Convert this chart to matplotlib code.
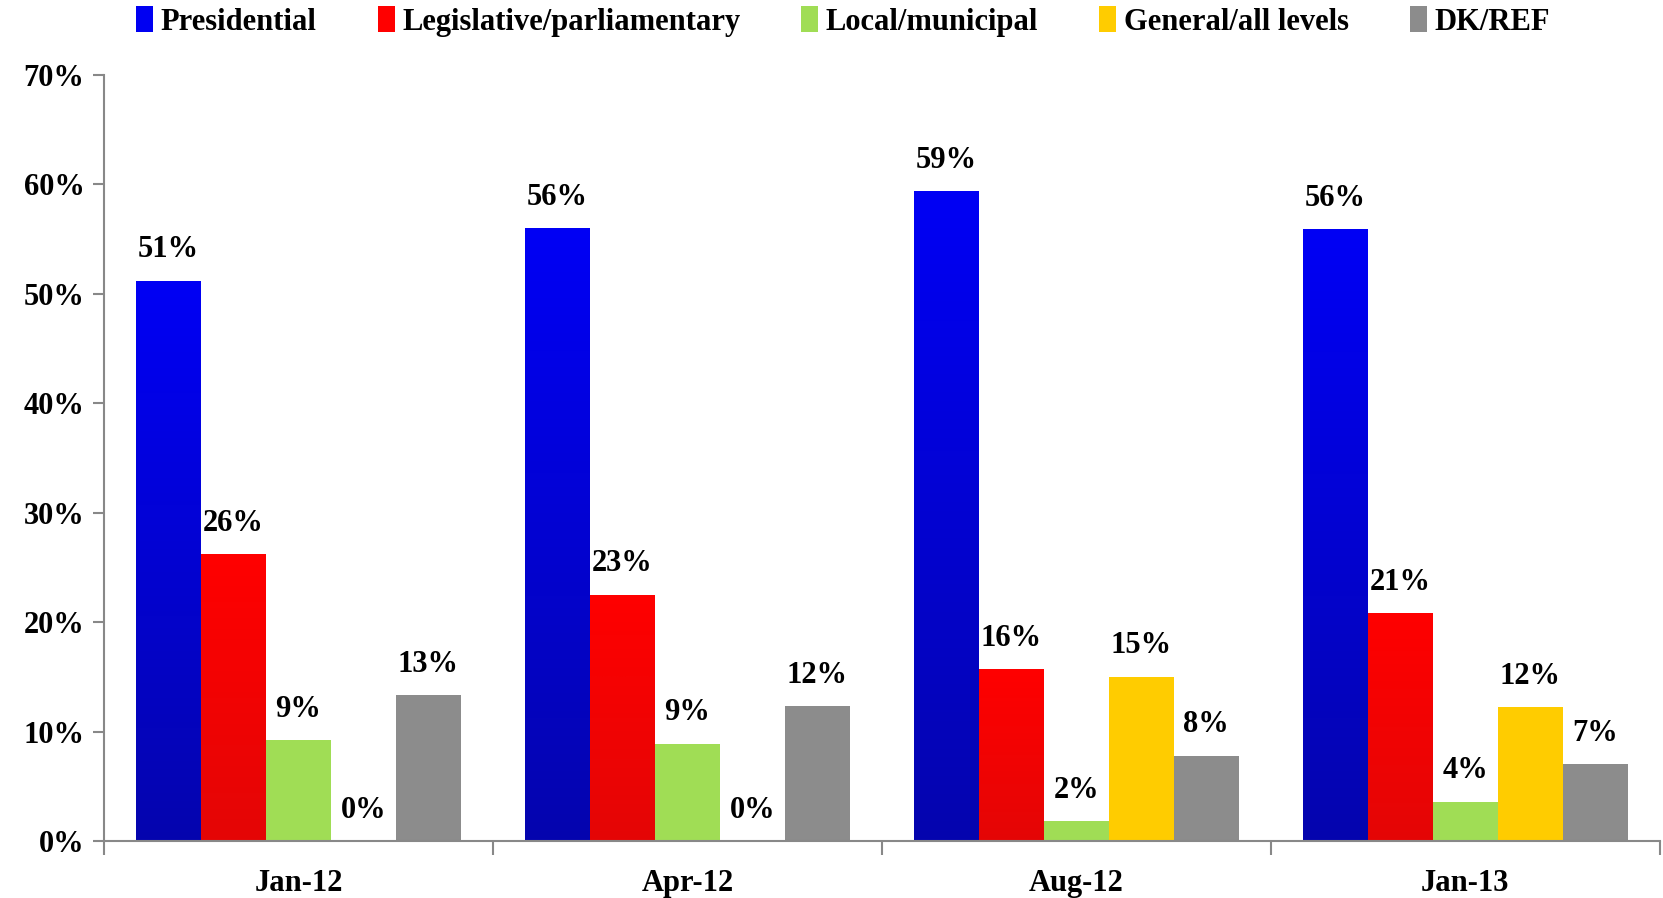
import numpy as np
import matplotlib
matplotlib.use("Agg")
import matplotlib.pyplot as plt
from matplotlib.colors import LinearSegmentedColormap
from matplotlib.patches import Patch

# data
dates = ["Jan-12", "Apr-12", "Aug-12", "Jan-13"]
series = ["Presidential", "Legislative/parliamentary", "Local/municipal",
          "General/all levels", "DK/REF"]
presidential = [51.2, 56.0, 59.4, 55.9]
legislative = [26.2, 22.5, 15.7, 20.8]
local = [9.2, 8.9, 1.8, 3.6]
general = [0.0, 0.0, 15.0, 12.2]
dkref = [13.3, 12.3, 7.8, 7.0]
labels = [["51%", "56%", "59%", "56%"],
          ["26%", "23%", "16%", "21%"],
          ["9%", "9%", "2%", "4%"],
          ["0%", "0%", "15%", "12%"],
          ["13%", "12%", "8%", "7%"]]

values = [presidential, legislative, local, general, dkref]
colors = ["#0000F2", "#FF0000", "#A0DD55", "#FFCC00", "#8C8C8C"]
# gradient (bottom, top) for the first two series
gradients = {0: ("#0505AE", "#0000F5"), 1: ("#E40606", "#FF0000")}

plt.rcParams['font.family'] = ['Liberation Serif', 'DejaVu Serif']
plt.rcParams['font.weight'] = 'bold'

fig = plt.figure(figsize=(16.63, 8.98), dpi=100)
ax = fig.add_axes([0.0625, 0.0635, 0.9355, 0.853])

w = 0.167
x = np.arange(len(dates)) + 0.5
for i, (vals, col) in enumerate(zip(values, colors)):
    pos = x + (i - 2) * w
    bars = ax.bar(pos, vals, w, color=col, linewidth=0, zorder=2)
    if i in gradients:
        cmap = LinearSegmentedColormap.from_list("g%d" % i, gradients[i])
        grad = np.linspace(0, 1, 256).reshape(-1, 1)
        for b in bars:
            b.set_facecolor("none")
            bx, by = b.get_x(), b.get_y()
            bw, bh = b.get_width(), b.get_height()
            im = ax.imshow(grad, cmap=cmap, origin="lower", aspect="auto",
                           extent=[bx, bx + bw, by, by + bh], zorder=2)
            im.set_clip_path(b)
    for p, v, t in zip(pos, vals, labels[i]):
        ax.text(p, v + 1.5, t, ha="center", va="bottom", fontsize=22,
                fontweight="bold", zorder=3)

ax.set_xlim(0, 4)
ax.set_ylim(0, 70)
ax.set_yticks(np.arange(0, 71, 10))
ax.set_yticklabels(["%d%%" % v for v in range(0, 71, 10)])
ax.set_xticks([0, 1, 2, 3, 4])
ax.set_xticklabels([])
ax.set_xticks(x, minor=True)
ax.set_xticklabels(dates, minor=True)
ax.tick_params(axis="x", which="major", length=10, width=1.5, color="#888888", direction="out")
ax.tick_params(axis="x", which="minor", length=0, pad=20, labelsize=22)
ax.tick_params(axis="y", length=8, width=1.5, color="#888888", labelsize=22, pad=6)
for lab in ax.get_xticklabels(minor=True) + ax.get_yticklabels():
    lab.set_fontweight("bold")

for s in ["top", "right"]:
    ax.spines[s].set_visible(False)
for s in ["left", "bottom"]:
    ax.spines[s].set_color("#888888")
    ax.spines[s].set_linewidth(1.5)

handles = [Patch(facecolor=c, edgecolor="none") for c in colors]
fig.legend(handles, series, loc="upper center", bbox_to_anchor=(0.507, 1.024),
           ncol=5, frameon=False, handlelength=0.55, handleheight=0.95,
           handletextpad=0.25, columnspacing=2.0, prop={"weight": "bold", "size": 22})

fig.savefig("out.png", dpi=100)
